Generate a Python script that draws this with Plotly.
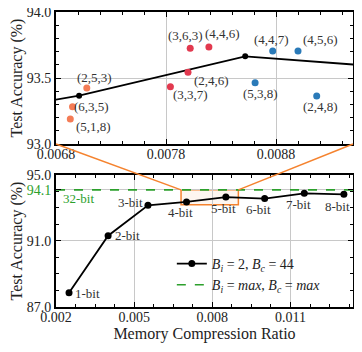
import plotly.graph_objects as go

# bottom panel: B_i = 2, B_c = 44 sweep
bit_labels = ['1-bit', '2-bit', '3-bit', '4-bit', '5-bit', '6-bit', '7-bit', '8-bit']
ratio = [0.0025, 0.0040, 0.00553, 0.00701, 0.00852, 0.01001, 0.01153, 0.01305]
acc = [87.87, 91.32, 93.16, 93.366, 93.664, 93.57, 93.89, 93.83]
full_acc = 94.1

# top panel: per-layer bit configs
orange_lbl = ['(2,5,3)', '(6,3,5)', '(5,1,8)']
orange_x = [0.00708, 0.00695, 0.00693]
orange_y = [93.424, 93.283, 93.19]
red_lbl = ['(3,6,3)', '(4,4,6)', '(2,4,6)', '(3,3,7)']
red_x = [0.00802, 0.00819, 0.00800, 0.00784]
red_y = [93.725, 93.735, 93.543, 93.434]
blue_lbl = ['(4,4,7)', '(4,5,6)', '(5,3,8)', '(2,4,8)']
blue_x = [0.00877, 0.00900, 0.00861, 0.00917]
blue_y = [93.705, 93.705, 93.464, 93.364]

# zoom window
zx = [0.0068, 0.0090]
zy = [93.2, 94.1]
top_xr = [0.0068, 0.0095]
top_yr = [93.0, 94.0]
bot_xr = [0.002, 0.0134]
bot_yr = [87.0, 95.0]
top_dom = [0.5525, 1.0]
bot_dom = [0.0, 0.4475]

FONT = 'Liberation Serif'
ORANGE = '#f5832f'
GREEN = '#2ca02c'

fig = go.Figure()

fig.add_trace(go.Scatter(x=ratio, y=acc, mode='lines+markers', xaxis='x', yaxis='y',
                         line=dict(color='black', width=1.8), marker=dict(size=6, color='black'),
                         showlegend=False))
fig.add_trace(go.Scatter(x=orange_x, y=orange_y, mode='markers', xaxis='x', yaxis='y',
                         marker=dict(size=7, color='#f47c56'), showlegend=False))
fig.add_trace(go.Scatter(x=red_x, y=red_y, mode='markers', xaxis='x', yaxis='y',
                         marker=dict(size=7, color='#e2394f'), showlegend=False))
fig.add_trace(go.Scatter(x=blue_x, y=blue_y, mode='markers', xaxis='x', yaxis='y',
                         marker=dict(size=7, color='#2a7ab8'), showlegend=False))

fig.add_trace(go.Scatter(x=ratio, y=acc, mode='lines+markers', xaxis='x2', yaxis='y2',
                         line=dict(color='black', width=1.8), marker=dict(size=7, color='black'),
                         name='<i>B</i><sub><i>i</i></sub> = 2, <i>B</i><sub><i>c</i></sub> = 44'))
fig.add_trace(go.Scatter(x=bot_xr, y=[full_acc, full_acc], mode='lines', xaxis='x2', yaxis='y2',
                         line=dict(color=GREEN, width=1.6, dash='dash'),
                         name='<i>B</i><sub><i>i</i></sub> = <i>max</i>, <i>B</i><sub><i>c</i></sub> = <i>max</i>'))

ann = []
# label offsets (px) for config labels
offs = {'(2,5,3)': (8, -11), '(6,3,5)': (19, 0), '(5,1,8)': (23, 8),
        '(3,6,3)': (-5, -13), '(4,4,6)': (14, -13), '(2,4,6)': (23, 8),
        '(3,3,7)': (20, 8), '(4,4,7)': (-1, -11), '(4,5,6)': (22, -11),
        '(5,3,8)': (5, 11), '(2,4,8)': (4, 11)}
for lbls, xs, ys in [(orange_lbl, orange_x, orange_y), (red_lbl, red_x, red_y), (blue_lbl, blue_x, blue_y)]:
    for l, x, y in zip(lbls, xs, ys):
        dx, dy = offs[l]
        ann.append(dict(x=x, y=y, xref='x', yref='y', text=l, showarrow=False,
                        xshift=dx, yshift=-dy, font=dict(family=FONT, size=13, color='#333')))

bit_offs = [(18, 1), (19, 0), (-17, -3), (-6, 11), (-2, 11), (-6, 11), (-6, 11), (-6, 12)]
for l, x, y, (dx, dy) in zip(bit_labels, ratio, acc, bit_offs):
    ann.append(dict(x=x, y=y, xref='x2', yref='y2', text=l, showarrow=False,
                    xshift=dx, yshift=-dy, font=dict(family=FONT, size=13, color='#333')))
ann.append(dict(x=bot_xr[0], y=full_acc, xref='x2', yref='y2', text='32-bit', showarrow=False,
                xanchor='left', xshift=5, yshift=-9, font=dict(family=FONT, size=13, color=GREEN)))


def px_x(x, xr):
    return (x - xr[0]) / (xr[1] - xr[0])


def px_y(y, yr, dom):
    return dom[0] + (y - yr[0]) / (yr[1] - yr[0]) * (dom[1] - dom[0])


shapes = [
    dict(type='rect', xref='x2', yref='y2', x0=zx[0], x1=zx[1], y0=zy[0], y1=zy[1],
         line=dict(color=ORANGE, width=1.5), fillcolor='rgba(245,131,47,0.07)', layer='below'),
    dict(type='line', xref='paper', yref='paper', x0=0, y0=top_dom[0],
         x1=px_x(zx[0], bot_xr), y1=px_y(zy[1], bot_yr, bot_dom), line=dict(color=ORANGE, width=1.5)),
    dict(type='line', xref='paper', yref='paper', x0=1, y0=top_dom[0],
         x1=px_x(zx[1], bot_xr), y1=px_y(zy[1], bot_yr, bot_dom), line=dict(color=ORANGE, width=1.5)),
]

axis_common = dict(showline=True, linecolor='black', linewidth=2, mirror='ticks',
                   ticks='inside', ticklen=5, tickwidth=1, tickcolor='black',
                   gridcolor='#c8c8c8', gridwidth=1, zeroline=False, automargin=False,
                   ticklabeloverflow='allow',
                   tickfont=dict(family=FONT, size=14, color='#222'))

# page body has an 8px margin, so the figure is sized to the remaining window
fig.update_layout(
    width=354, height=344,
    margin=dict(l=48, r=9, t=4, b=45),
    plot_bgcolor='white', paper_bgcolor='white',
    font=dict(family=FONT, size=14, color='#222'),
    xaxis=dict(axis_common, domain=[0, 1], anchor='y', range=top_xr,
               tickvals=[0.0068, 0.0078, 0.0088], ticktext=['0.0068', '0.0078', '0.0088'],
               ticklabelstandoff=-4,
               minor=dict(ticks='inside', dtick=0.0002, tick0=0.0068, ticklen=3, tickcolor='black', showgrid=False)),
    yaxis=dict(axis_common, domain=top_dom, anchor='x', range=top_yr,
               tickvals=[93.0, 93.5, 94.0], ticktext=['93.0', '93.5', '94.0'],
               minor=dict(ticks='inside', dtick=0.1, tick0=93.0, ticklen=3, tickcolor='black', showgrid=False),
               title=dict(text='Test Accuracy (%)', font=dict(family=FONT, size=16), standoff=2)),
    xaxis2=dict(axis_common, domain=[0, 1], anchor='y2', range=bot_xr,
                tickvals=[0.002, 0.005, 0.008, 0.011], ticktext=['0.002', '0.005', '0.008', '0.011'],
                ticklabelstandoff=-4,
                minor=dict(ticks='inside', dtick=0.00075, tick0=0.002, ticklen=3, tickcolor='black', showgrid=False),
                title=dict(text='Memory Compression Ratio', font=dict(family=FONT, size=16), standoff=2)),
    yaxis2=dict(axis_common, domain=bot_dom, anchor='x2', range=bot_yr,
                tickvals=[87.0, 91.0, 94.1, 95.0],
                ticktext=['87.0', '91.0', '<span style="color:%s">94.1</span>' % GREEN, '95.0'],
                minor=dict(ticks='inside', dtick=1, tick0=87, ticklen=3, tickcolor='black', showgrid=False),
                title=dict(text='Test Accuracy (%)', font=dict(family=FONT, size=16), standoff=2)),
    legend=dict(x=0.39, y=0.2, xanchor='left', yanchor='top', bgcolor='rgba(0,0,0,0)',
                font=dict(family=FONT, size=14), tracegroupgap=0, itemwidth=30),
    annotations=ann,
    shapes=shapes,
)

fig.write_html("out.html")
